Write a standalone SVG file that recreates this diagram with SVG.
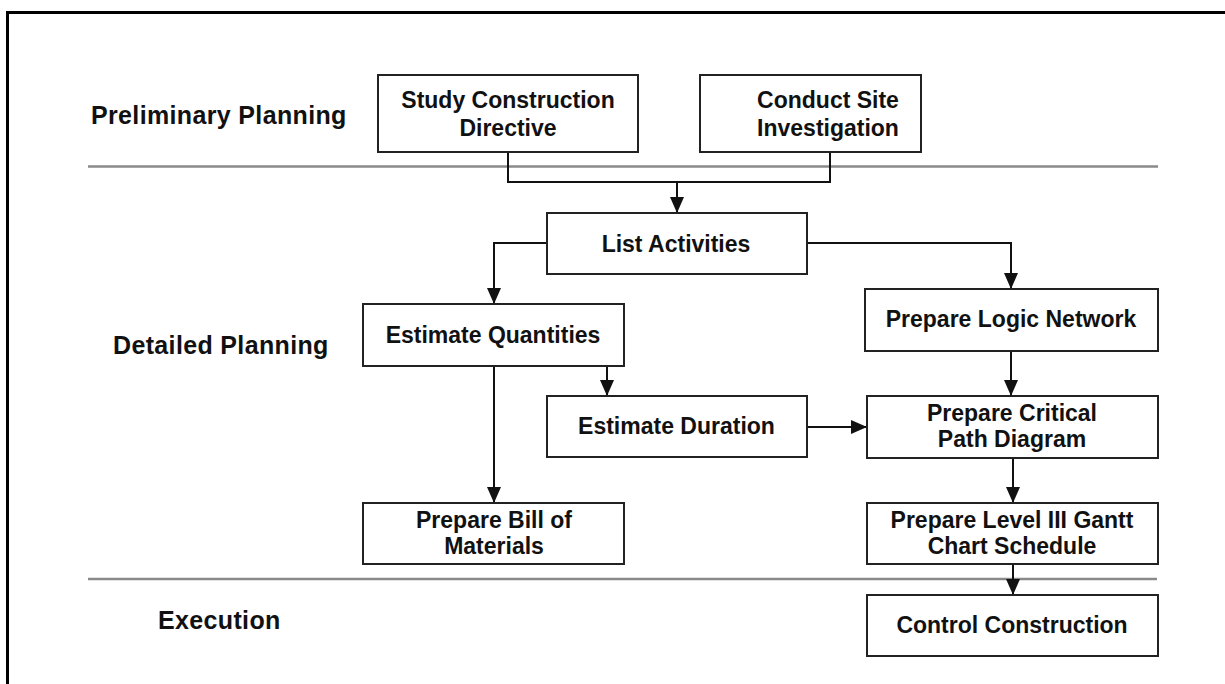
<svg xmlns="http://www.w3.org/2000/svg" width="1225" height="684" viewBox="0 0 1225 684">
<style>
.box{fill:#fff;stroke:#222;stroke-width:2}
.t{font-family:"Liberation Sans",Arial,sans-serif;font-weight:bold;font-size:23px;fill:#111;text-anchor:middle}
.lbl{font-family:"Liberation Sans",Arial,sans-serif;font-weight:bold;font-size:25px;fill:#111;letter-spacing:0.35px}
.sep{stroke:#8a8a8a;stroke-width:2.5;fill:none}
.c{stroke:#111;stroke-width:2;fill:none}
.a{marker-end:url(#ah)}
</style>
<defs>
<marker id="ah" viewBox="0 0 16 14" refX="16" refY="7" markerWidth="16" markerHeight="14" markerUnits="userSpaceOnUse" orient="auto">
<path d="M0,0 L16,7 L0,14 z" fill="#111"/>
</marker>
</defs>
<rect x="0" y="0" width="1225" height="684" fill="#fff"/>
<g id="frame">
<path d="M7.5,684 V12.5 H1225" fill="none" stroke="#000" stroke-width="3"/>
</g>
<g id="separators">
<line class="sep" x1="88" y1="166.5" x2="1158" y2="166.5"/>
<line class="sep" x1="88" y1="579" x2="1157" y2="579"/>
</g>
<g id="labels">
<text class="lbl" x="91" y="124">Preliminary Planning</text>
<text class="lbl" x="113" y="354">Detailed Planning</text>
<text class="lbl" x="158" y="629">Execution</text>
</g>
<g id="connectors">
<path class="c" d="M508,152 V182 H830 V152"/>
<path class="c a" d="M677,182 V213"/>
<path class="c a" d="M547,243 H494 V304"/>
<path class="c a" d="M807,243 H1011 V289"/>
<path class="c a" d="M607,366 V396"/>
<path class="c a" d="M494,366 V503"/>
<path class="c a" d="M807,427 H867"/>
<path class="c a" d="M1011,351 V396"/>
<path class="c a" d="M1013,458 V503"/>
<path class="c a" d="M1013,564 V595"/>
</g>
<g id="study">
<rect class="box" x="378" y="75" width="260" height="77"/>
<text class="t" x="508" y="108">Study Construction</text>
<text class="t" x="508" y="135.5">Directive</text>
</g>
<g id="conduct">
<rect class="box" x="700" y="75" width="221" height="77"/>
<text class="t" x="828" y="108">Conduct Site</text>
<text class="t" x="828" y="135.5">Investigation</text>
</g>
<g id="list">
<rect class="box" x="547" y="213" width="260" height="61"/>
<text class="t" x="676" y="252">List Activities</text>
</g>
<g id="estq">
<rect class="box" x="363" y="304" width="261" height="62"/>
<text class="t" x="493" y="343">Estimate Quantities</text>
</g>
<g id="estd">
<rect class="box" x="547" y="396" width="260" height="61"/>
<text class="t" x="676.5" y="434">Estimate Duration</text>
</g>
<g id="bill">
<rect class="box" x="363" y="503" width="261" height="61"/>
<text class="t" x="494" y="528">Prepare Bill of</text>
<text class="t" x="494" y="554">Materials</text>
</g>
<g id="logic">
<rect class="box" x="865" y="289" width="293" height="62"/>
<text class="t" x="1011" y="327">Prepare Logic Network</text>
</g>
<g id="cpd">
<rect class="box" x="867" y="396" width="291" height="62"/>
<text class="t" x="1012" y="420.5">Prepare Critical</text>
<text class="t" x="1012" y="447">Path Diagram</text>
</g>
<g id="gantt">
<rect class="box" x="867" y="503" width="291" height="61"/>
<text class="t" x="1012" y="527.5">Prepare Level III Gantt</text>
<text class="t" x="1012" y="554">Chart Schedule</text>
</g>
<g id="control">
<rect class="box" x="867" y="595" width="291" height="61"/>
<text class="t" x="1012" y="632.5">Control Construction</text>
</g>
</svg>
